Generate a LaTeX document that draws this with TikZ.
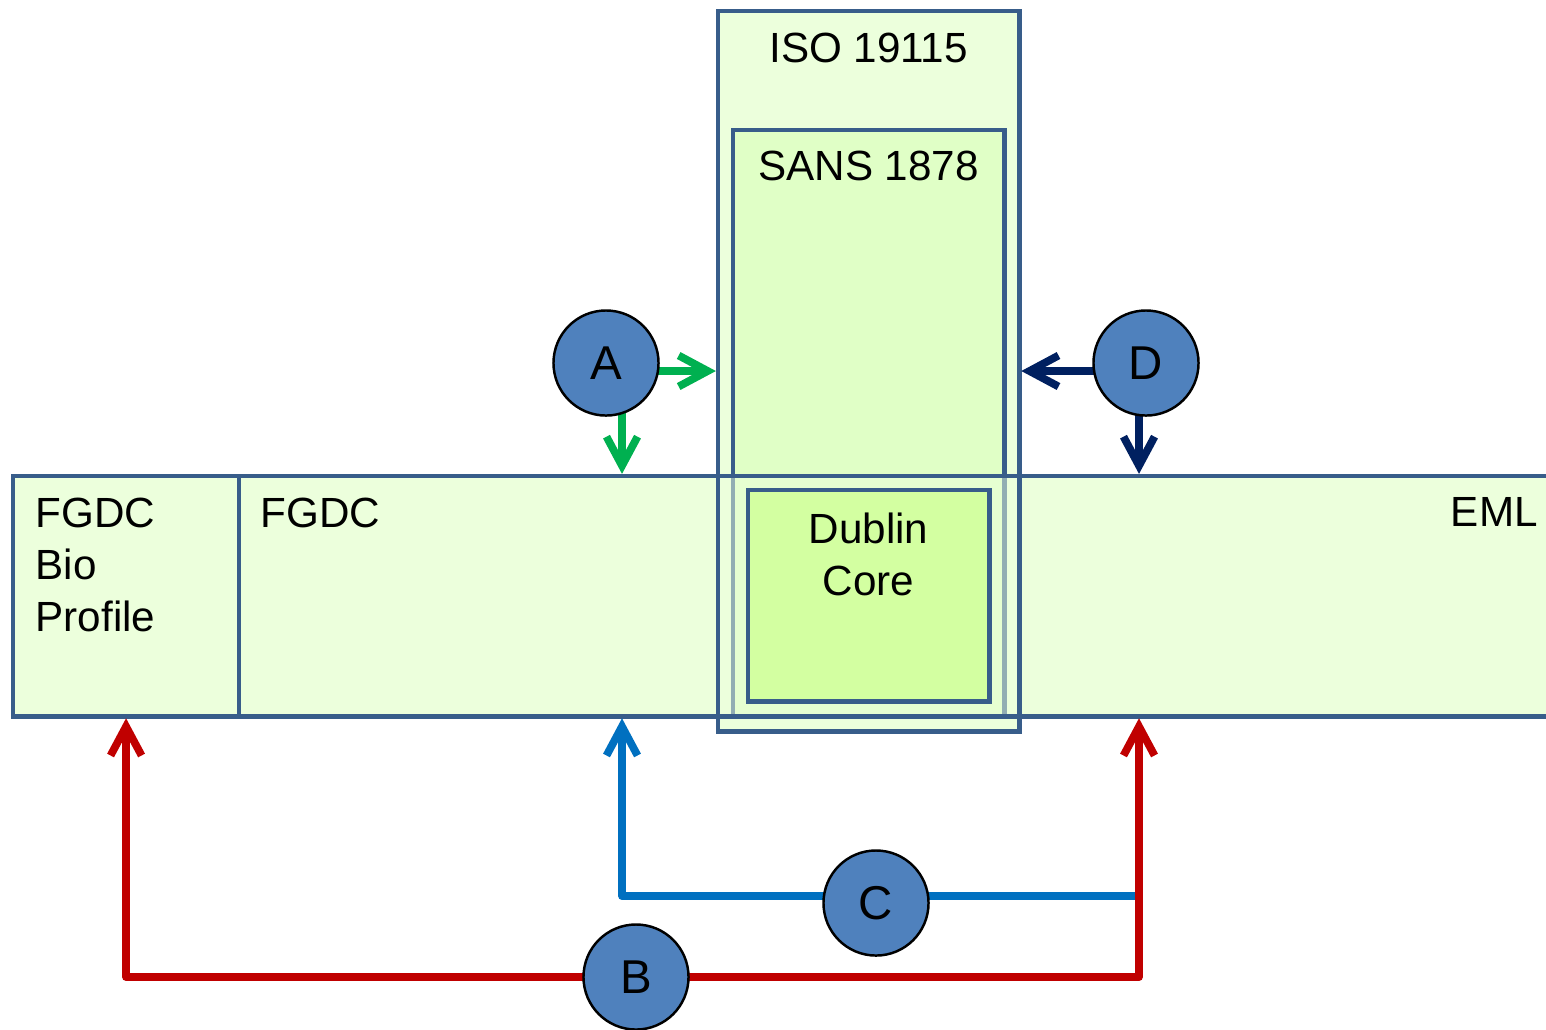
\documentclass[tikz,border=0pt]{standalone}
\usepackage{fontspec}
\setmainfont{Liberation Sans}
\usepackage{xcolor}
\usepackage{tikz}
\usetikzlibrary{arrows.meta,positioning,fit,calc}
\definecolor{schemaedge}{HTML}{385D8A}
\definecolor{schemafill}{HTML}{ECFFDC}
\definecolor{sansfill}{HTML}{E0FFC6}
\definecolor{dcfill}{HTML}{D3FFA1}
\definecolor{markerfill}{HTML}{4F81BD}
\definecolor{linkgreen}{HTML}{00B050}
\definecolor{linknavy}{HTML}{002060}
\definecolor{linkred}{HTML}{C00000}
\definecolor{linkblue}{HTML}{0070C0}
\tikzset{
  >={Straight Barb[length=2.9mm,width=3.1mm]},
  schemabox/.style={draw=schemaedge, line width=1.4pt, fill=schemafill, rectangle, inner sep=0pt, outer sep=0pt, anchor=north west},
  schemaband/.style={schemabox, draw=none},
  schemastrip/.style={draw=schemaedge, line width=1.4pt, fill=schemafill, fill opacity=0.5, inner sep=0pt, outer sep=0pt},
  schemalabel/.style={inner sep=0pt, font=\fontsize{12}{14.8}\selectfont, align=left},
  marker/.style={circle, draw=black, line width=0.7pt, fill=markerfill, minimum size=10.5mm, inner sep=0pt, font=\fontsize{13.5}{16}\selectfont},
  link/.style={line width=2.2pt, line join=round, line cap=round},
  greenlink/.style={link, draw=linkgreen},
  navylink/.style={link, draw=linknavy},
  redlink/.style={link, draw=linkred},
  bluelink/.style={link, draw=linkblue}
}
\begin{document}
\begin{tikzpicture}[x=0.01cm, y=-0.01cm]
\useasboundingbox (0,0) rectangle (1546,1029);
\clip (0,0) rectangle (1546,1029);
\node[schemabox, minimum width=22.6mm, minimum height=24mm] (bio) at (13,476) {};
\node[schemaband, minimum width=63.7mm, minimum height=24mm] (fgdc) at (239,476) {};
\node[schemaband, minimum width=68.4mm, minimum height=24mm] (eml) at (876,476) {};
\node[schemabox, minimum width=30.1mm, minimum height=72mm] (iso) at (718,11) {};
\node[schemabox, fill=sansfill, minimum width=27.1mm, minimum height=58.6mm] (sans) at (733,130) {};
\node[schemastrip, fit=(fgdc)(eml)] (strip) {};
\draw[schemaedge, line width=1.4pt] (iso.north west) rectangle (iso.south east);
\node[schemabox, fill=dcfill, minimum width=24.1mm, minimum height=21.1mm] (dc) at (748,490) {};

\node[schemalabel, below right=2.1mm and 2.2mm of bio.north west] (biotext) {FGDC\\Bio\\Profile};
\node[schemalabel, below right=2.1mm and 2.1mm of fgdc.north west] (fgdctext) {FGDC};
\node[schemalabel, below left=2.1mm and 2.2mm of eml.north east] (emltext) {EML};
\node[schemalabel, below=2.1mm of iso.north] (isotext) {ISO 19115};
\node[schemalabel, below=2mm of sans.north] (sanstext) {SANS 1878};
\node[schemalabel, align=center, below=2.2mm of dc.north] (dctext) {Dublin\\Core};

\coordinate (Apos) at (606,363);
\coordinate (Bpos) at (636,977);
\coordinate (Cpos) at (876,903);
\coordinate (Dpos) at (1146,363);
\coordinate (aport) at ($(Apos)+(16,0)$);
\coordinate (aright) at ($(Apos)+(0,8)$);
\coordinate (dport) at ($(Dpos)+(-7,0)$);
\coordinate (dleft) at ($(Dpos)+(0,8)$);
\coordinate (cline) at ($(Cpos)+(0,-7)$);

\draw[greenlink, ->, shorten >=0.6pt] (aright) -- (aright -| iso.west);
\draw[greenlink, ->, shorten >=0.6pt] (aport) -- (aport |- fgdc.north);
\draw[navylink, ->, shorten >=0.6pt] (dleft) -- (dleft -| iso.east);
\draw[navylink, ->, shorten >=0.6pt] (dport) -- (dport |- eml.north);
\draw[bluelink, <-, shorten <=0.6pt] (aport |- fgdc.south) |- (cline) -- (cline -| dport);
\draw[redlink, <->, shorten <=0.6pt, shorten >=0.6pt] (bio.south) |- (Bpos) -| (dport |- eml.south);

\node[marker] (A) at (Apos) {A};
\node[marker] (B) at (Bpos) {B};
\node[marker] (C) at (Cpos) {C};
\node[marker] (D) at (Dpos) {D};
\end{tikzpicture}
\end{document}
